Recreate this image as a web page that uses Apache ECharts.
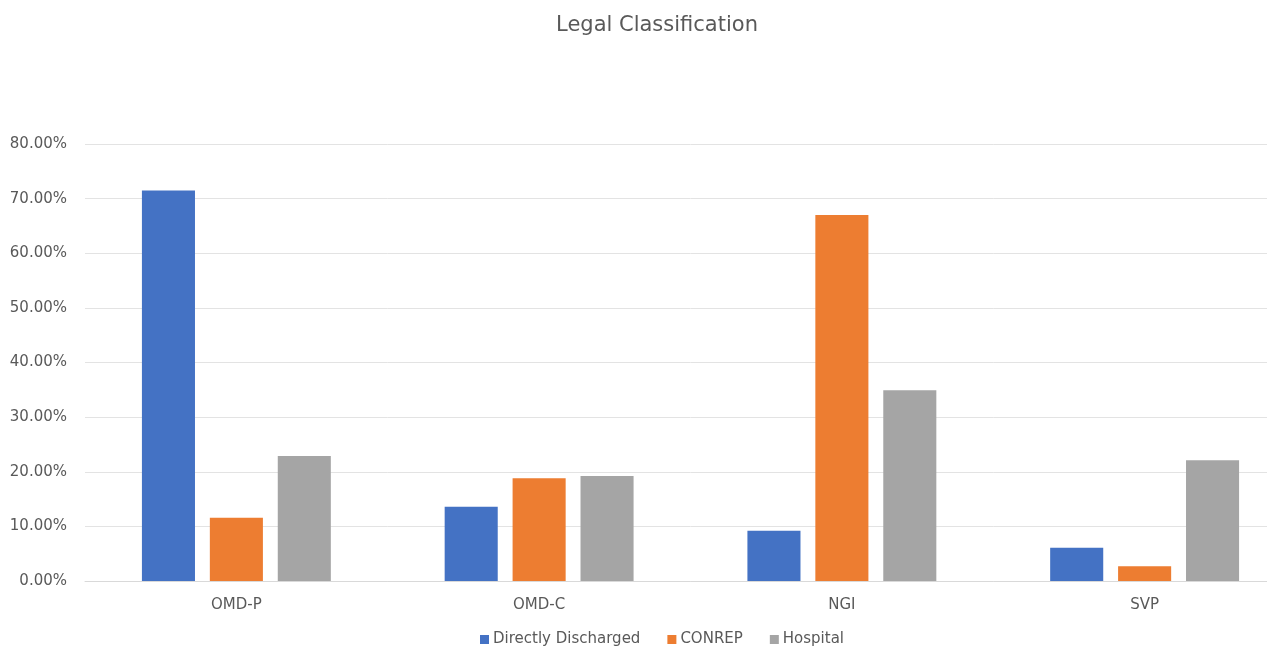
<!DOCTYPE html>
<html>
<head>
<meta charset="utf-8">
<title>Legal Classification</title>
<script src="https://cdn.jsdelivr.net/npm/echarts@6/dist/echarts.min.js"></script>
<style>
  html, body { margin: 0; padding: 0; background: #ffffff; overflow: hidden; }
  /* the plot runs slightly past the right edge of the window */
  #chart { width: 1296px; height: 654px; }
</style>
</head>
<body>
<div id="chart"></div>
<script>
// Share of each outcome per legal classification (percent)
const categories = ['OMD-P', 'OMD-C', 'NGI', 'SVP'];
const directlyDischarged = [71.5, 13.6, 9.2, 6.1];
const conrep = [11.6, 18.8, 67.0, 2.7];
const hospital = [22.9, 19.2, 34.9, 22.1];
const seriesNames = ['Directly Discharged', 'CONREP', 'Hospital'];
const seriesColors = ['#4472c4', '#ed7d31', '#a5a5a5'];
const yTicks = { min: 0, max: 80, interval: 10 };

const font = '"DejaVu Sans", "Open Sans", sans-serif';
const textGrey = '#595959';
const lineGrey = '#e3e3e3';

const chart = echarts.init(document.getElementById('chart'), null, { renderer: 'canvas' });

const values = [directlyDischarged, conrep, hospital];

chart.setOption({
  animation: false,
  backgroundColor: '#ffffff',
  title: {
    text: 'Legal Classification',
    left: 652,
    textAlign: 'center',
    top: 10,
    textStyle: { fontFamily: font, fontSize: 21, fontWeight: 'normal', color: textGrey }
  },
  legend: {
    data: seriesNames,
    bottom: 2,
    left: 475,
    itemWidth: 9,
    itemHeight: 9,
    itemGap: 27,
    icon: 'rect',
    textStyle: { fontFamily: font, fontSize: 15, color: textGrey, padding: [0, 0, 0, -1] }
  },
  grid: {
    left: 85,
    right: 0,
    top: 144,
    height: 437,
    containLabel: false
  },
  xAxis: {
    type: 'category',
    data: categories,
    axisLine: { show: true, lineStyle: { color: '#d9d9d9', width: 1 } },
    axisTick: { show: false },
    axisLabel: { fontFamily: font, fontSize: 15, color: textGrey, margin: 17 }
  },
  yAxis: {
    type: 'value',
    min: yTicks.min,
    max: yTicks.max,
    interval: yTicks.interval,
    axisLine: { show: false },
    axisTick: { show: false },
    splitLine: { lineStyle: { color: lineGrey, width: 1 } },
    axisLabel: {
      fontFamily: font,
      fontSize: 15,
      color: textGrey,
      margin: 18,
      formatter: v => v.toFixed(2) + '%'
    }
  },
  series: seriesNames.map((name, i) => ({
    name: name,
    type: 'bar',
    data: values[i],
    itemStyle: { color: seriesColors[i] },
    barGap: '28%',
    barCategoryGap: '37.6%'
  }))
});
</script>
</body>
</html>
